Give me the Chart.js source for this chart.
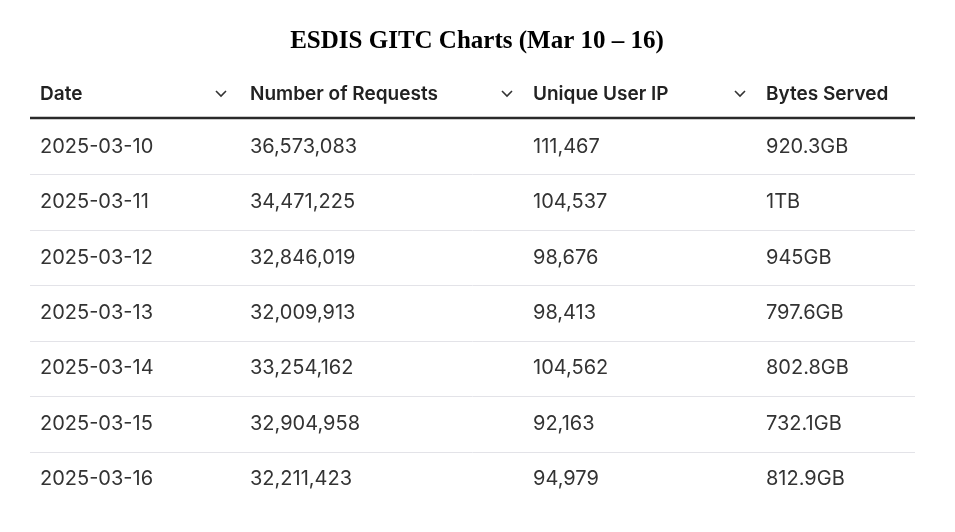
<!DOCTYPE html>
<html><head><meta charset="utf-8">
<script src="https://cdn.jsdelivr.net/npm/chart.js"></script>
<style>html,body{margin:0;padding:0;background:#fff}#c{display:block}</style>
</head><body>
<div style="width:955px;height:532px"><canvas id="c"></canvas></div>
<script>
const title = "ESDIS GITC Charts (Mar 10 \u2013 16)";
const columns = ["Date", "Number of Requests", "Unique User IP", "Bytes Served"];
const dates = ["2025-03-10","2025-03-11","2025-03-12","2025-03-13","2025-03-14","2025-03-15","2025-03-16"];
const requests = ["36,573,083","34,471,225","32,846,019","32,009,913","33,254,162","32,904,958","32,211,423"];
const uniqueIPs = ["111,467","104,537","98,676","98,413","104,562","92,163","94,979"];
const bytesServed = ["920.3GB","1TB","945GB","797.6GB","802.8GB","732.1GB","812.9GB"];
const colX = [10, 220, 503, 736];   // column left edges in table units
const chevX = [191, 477, 710];

const tablePlugin = {
  id: 'table',
  afterDraw(chart) {
    const ctx = chart.ctx, xs = chart.scales.x, ys = chart.scales.y;
    const L = xs.getPixelForValue(0), R = xs.getPixelForValue(885);
    ctx.save();
    ctx.fillStyle = '#000';
    ctx.font = 'bold 25px "Liberation Serif"';
    ctx.textAlign = 'center'; ctx.textBaseline = 'middle';
    ctx.fillText(title, 477, 42);
    // header
    const hy = ys.getPixelForValue(-0.95);
    ctx.textAlign = 'left';
    ctx.fillStyle = '#222';
    ctx.font = '600 19px Inter';
    columns.forEach((c, i) => ctx.fillText(c, xs.getPixelForValue(colX[i]), hy));
    ctx.strokeStyle = '#333'; ctx.lineWidth = 1.6;
    chevX.forEach(cx => {
      const px = xs.getPixelForValue(cx);
      ctx.beginPath(); ctx.moveTo(px - 5, hy - 3); ctx.lineTo(px, hy + 2); ctx.lineTo(px + 5, hy - 3); ctx.stroke();
    });
    // header line
    ctx.strokeStyle = '#2a2a2a'; ctx.lineWidth = 2.5;
    const ly = ys.getPixelForValue(-0.5) - 1;
    ctx.beginPath(); ctx.moveTo(L, ly); ctx.lineTo(R, ly); ctx.stroke();
    // separators
    ctx.strokeStyle = '#e3e3e8'; ctx.lineWidth = 1;
    for (let i = 0; i < dates.length - 1; i++) {
      const y = Math.round(ys.getPixelForValue(i + 0.5)) + 0.5;
      ctx.beginPath(); ctx.moveTo(L, y); ctx.lineTo(R, y); ctx.stroke();
    }
    // body
    ctx.fillStyle = '#333';
    ctx.font = '20px Inter';
    const cols = [dates, requests, uniqueIPs, bytesServed];
    for (let r = 0; r < dates.length; r++) {
      const y = ys.getPixelForValue(r);
      cols.forEach((arr, i) => ctx.fillText(arr[r], xs.getPixelForValue(colX[i]), y));
    }
    ctx.restore();
  }
};

new Chart(document.getElementById('c'), {
  type: 'scatter',
  data: { datasets: [{ data: [], pointRadius: 0 }] },
  options: {
    responsive: true, maintainAspectRatio: false, animation: false,
    layout: { padding: { top: 119, bottom: 25, left: 30, right: 40 } },
    plugins: { legend: { display: false }, tooltip: { enabled: false } },
    scales: {
      x: { type: 'linear', min: 0, max: 885, display: false },
      y: { type: 'linear', min: -0.5, max: 6.5, reverse: true, display: false }
    }
  },
  plugins: [tablePlugin]
});
</script>
</body></html>
